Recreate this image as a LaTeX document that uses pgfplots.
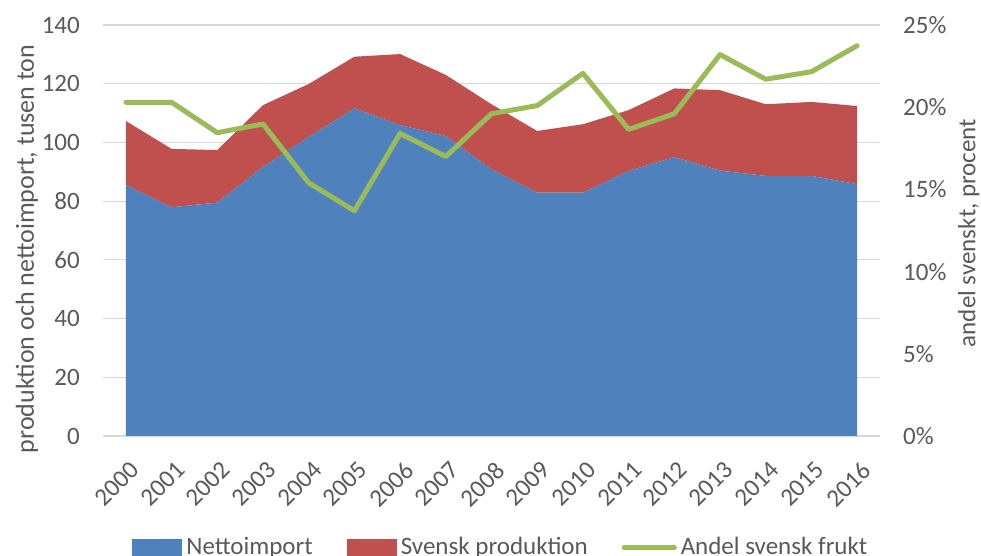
\documentclass[border=0pt]{standalone}
\usepackage{pgfplots}
\pgfplotsset{compat=1.18}
\usepackage{fontspec}
\setmainfont{Carlito}
\definecolor{cblue}{RGB}{79,129,189}
\definecolor{cred}{RGB}{192,80,77}
\definecolor{cgreen}{RGB}{155,187,89}
\definecolor{cgrid}{RGB}{217,217,217}
\definecolor{ctext}{RGB}{89,89,89}
\begin{document}
\fontsize{25bp}{30bp}\selectfont
\begin{tikzpicture}
\useasboundingbox (0,0) rectangle (981bp,556bp);
\begin{axis}[
  at={(103bp,120bp)}, anchor=south west, scale only axis,
  width=777bp, height=411bp,
  xmin=1999.5, xmax=2016.5, ymin=0, ymax=140,
  xtick={2000,...,2016}, ytick={0,20,...,140},
  /pgf/number format/1000 sep={},
  /pgf/number format/assume math mode=true,
  axis line style={draw=none},
  major tick length=0pt,
  ymajorgrids, grid style={cgrid, line width=1.2bp},
  tick label style={text=ctext, font=\fontsize{25bp}{30bp}\selectfont},
  yticklabel style={inner sep=0pt, xshift=-23bp},
  xticklabel style={xshift=3bp, yshift=-24bp, rotate=45, anchor=north east, inner sep=0pt},
  ylabel={produktion och nettoimport, tusen ton},
  ylabel style={at={(axis description cs:-0.098,0.455)}, anchor=center, text=ctext, font=\fontsize{26bp}{30bp}\selectfont},
  stack plots=y,
]
\addplot[fill=cblue, draw=none] coordinates {
(2000,85.5) (2001,77.9) (2002,79.5) (2003,91.7) (2004,101.9) (2005,111.6) (2006,105.9) (2007,102.2) (2008,90.8) (2009,82.9) (2010,82.9) (2011,90.3) (2012,95.0) (2013,90.4) (2014,88.6) (2015,88.6) (2016,85.8)
} \closedcycle;
\addplot[fill=cred, draw=none] coordinates {
(2000,21.8) (2001,19.9) (2002,17.9) (2003,21.0) (2004,18.0) (2005,17.6) (2006,24.2) (2007,20.8) (2008,22.2) (2009,21.0) (2010,23.3) (2011,20.7) (2012,23.4) (2013,27.4) (2014,24.4) (2015,25.2) (2016,26.6)
} \closedcycle;
\end{axis}
\begin{axis}[
  at={(103bp,120bp)}, anchor=south west, scale only axis,
  width=777bp, height=411bp,
  xmin=1999.5, xmax=2016.5, ymin=0, ymax=25,
  axis x line=none, axis y line*=right,
  y axis line style={draw=none},
  ytick={0,5,...,25},
  yticklabel={\pgfmathprintnumber[assume math mode=true]{\tick}\%},
  major tick length=0pt,
  tick label style={text=ctext, font=\fontsize{25bp}{30bp}\selectfont},
  yticklabel style={inner sep=0pt, anchor=west, xshift=23bp},
  ylabel={andel svenskt, procent},
  ylabel style={at={(axis description cs:1.114,0.494)}, anchor=center, rotate=0, text=ctext, font=\fontsize{25bp}{30bp}\selectfont},
  legend style={at={(axis description cs:0.512,-0.236)}, anchor=north, legend columns=3, draw=none, fill=none,
    font=\fontsize{25bp}{30bp}\selectfont, text=ctext,
    /tikz/every even column/.append style={column sep=32bp},
    /tikz/every odd column/.append style={column sep=2bp}},
  legend cell align=left,
]
\addlegendimage{area legend, fill=cblue, draw=none, legend image code/.code={\fill[cblue] (0bp,-9bp) rectangle (50bp,9bp);}}
\addlegendentry{Nettoimport}
\addlegendimage{area legend, fill=cred, draw=none, legend image code/.code={\fill[cred] (0bp,-9bp) rectangle (50bp,9bp);}}
\addlegendentry{Svensk produktion}
\addplot[cgreen, line width=5bp, line join=round, line cap=round, legend image code/.code={\draw[cgreen, line width=5bp, line cap=round] (0bp,0bp) -- (50bp,0bp);}] coordinates {
(2000,20.3) (2001,20.3) (2002,18.45) (2003,18.98) (2004,15.4) (2005,13.7) (2006,18.4) (2007,17.0) (2008,19.6) (2009,20.1) (2010,22.06) (2011,18.65) (2012,19.6) (2013,23.2) (2014,21.7) (2015,22.16) (2016,23.74)
};
\addlegendentry{Andel svensk frukt}
\end{axis}
\end{tikzpicture}
\end{document}
